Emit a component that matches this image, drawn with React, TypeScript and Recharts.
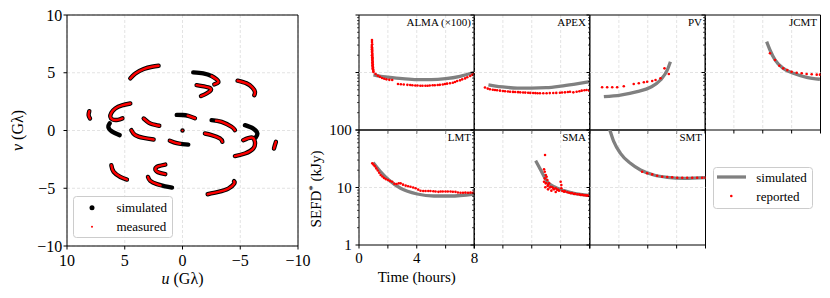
import React from 'react';
import {
  ComposedChart, Line, Scatter, XAxis, YAxis, CartesianGrid,
  ReferenceLine, ReferenceArea, Legend, Label,
} from 'recharts';

const SERIF = "'Liberation Serif', 'Times New Roman', Times, serif";
const GRID = '#dcdcdc';

// ---------- (u, v) coverage, Gλ ----------
// simulated tracks (black)
const simA = [[4.52, 4.51], [4.08, 4.94], [3.36, 5.32], [2.64, 5.52], [2.07, 5.61]];
const simB = [[8.07, 1.67], [8.13, 1.33], [8.01, 1.04]];
const simC = [[4.52, 2.34], [5.24, 2.17], [5.82, 1.91], [6.16, 1.53], [6.25, 1.19], [6.05, 0.95], [5.6, 0.92], [5.2, 1.05]];
const simD = [[6.30, 0.62], [6.42, 0.30], [6.12, -0.08], [5.44, -0.40]];
const simE = [[3.36, 1.04], [3.08, 0.80], [2.79, 0.61], [2.35, 0.48], [2.01, 0.41]];
const simF = [[4.43, 0.03], [4.09, -0.40], [3.36, -0.64], [2.50, -0.78]];
const simG = [[0.5, 1.35], [0, 1.34], [-0.5, 1.27], [-1.08, 1.06]];
const simH = [[1.1, -0.88], [0.5, -1.1], [0, -1.18], [-0.5, -1.22]];
const simI = [[6.16, -3.01], [5.96, -3.58], [5.38, -4.02], [4.81, -4.25]];
const simJ = [[1.49, -2.95], [2.07, -3.09], [2.35, -3.32], [2.12, -3.61], [1.49, -3.78]];
const simK = [[2.99, -4.02], [2.79, -4.36], [2.21, -4.65], [1.49, -4.83], [0.91, -4.94]];
const simL = [[-0.93, 5.03], [-1.80, 4.94], [-2.52, 4.71], [-2.96, 4.42], [-3.10, 4.16], [-2.75, 3.99]];
const simM = [[-1.22, 3.93], [-2.23, 3.73], [-2.46, 3.50], [-2.09, 3.21], [-1.60, 2.98]];
const simN = [[-4.77, 4.31], [-5.55, 4.08], [-6.04, 3.73], [-6.27, 3.35], [-6.22, 3.06]];
const simO = [[-2.52, 0.90], [-3.39, 0.75], [-4.25, 0.32], [-4.54, 0.03]];
const simP = [[-1.94, -0.26], [-2.52, -0.40], [-3.24, -0.69], [-3.45, -0.98]];
const simQ = [[-5.41, 0.46], [-6.13, 0.17], [-6.48, -0.26], [-6.33, -0.61]];
const simR = [[-5.26, -0.84], [-5.99, -0.61], [-6.27, -0.98], [-6.13, -1.56], [-5.41, -1.99], [-4.54, -2.22]];
const simS = [[-8.09, -0.98], [-8.0, -1.27], [-7.92, -1.56]];
const simT = [[-2.18, -5.52], [-3.10, -5.32], [-3.97, -5.03], [-4.48, -4.59], [-4.46, -4.39]];
const simCenter = [[0, 0]];

// measured tracks (red) that differ from the simulated ones
const measG = [[-0.45, 1.28], [-1.08, 1.06]];
const measH = [[1.1, -0.88], [0.5, -1.1], [0.2, -1.15]];
const measK = [[2.99, -4.02], [2.79, -4.36], [2.21, -4.65], [1.9, -4.75]];
const measL = [[-2.52, 4.71], [-2.96, 4.42], [-3.10, 4.16], [-2.75, 3.99]];
const measO = [[-2.9, 0.85], [-3.39, 0.75], [-4.25, 0.32], [-4.54, 0.03]];

const simulatedTracks = [simA, simB, simC, simD, simE, simF, simG, simH, simI, simJ, simK, simL, simM, simN, simO, simP, simQ, simR, simS, simT];
const measuredTracks = [simA, simB, simC, simE, simF, measG, measH, simI, simJ, measK, measL, simM, simN, measO, simP, simR, simS, simT];

const uvTicks = [10, 5, 0, -5, -10];

// ---------- SEFD* (kJy) vs time (hours) ----------
const almaSim = [[1.0, 9.1], [1.5, 8.6], [2, 8.3], [3, 7.8], [4, 7.5], [5, 7.5], [6, 7.8], [7, 8.6], [8, 10.1]];
const almaRep = [
  [0.9, 36.7], [0.9, 34], [0.91, 31], [0.89, 29], [0.9, 27.5], [0.91, 26], [0.89, 25], [0.92, 24], [0.9, 23],
  [0.91, 22], [0.93, 21], [0.9, 20], [0.92, 19.5], [0.93, 18.5], [0.91, 18], [0.94, 17.3], [0.92, 16.6],
  [0.93, 16], [0.95, 15.3], [0.92, 14.8], [0.94, 14.2], [0.96, 13.6], [0.93, 13.2], [0.95, 12.7], [0.97, 12.2],
  [0.95, 11.8], [0.97, 11.4], [0.98, 11.0], [0.99, 10.6], [1.0, 10.2],
  [1.15, 9.4], [1.3, 8.8], [1.45, 8.4], [1.6, 8.0], [1.75, 7.8], [1.9, 7.6], [2.1, 7.45], [2.3, 7.4],
  [2.7, 6.3], [2.9, 6.25], [3.1, 6.2], [3.35, 6.1], [3.55, 6.05], [3.7, 6.0], [3.9, 5.95], [4.05, 5.95], [4.25, 5.9],
  [4.4, 5.9], [4.6, 5.9], [4.75, 5.9], [4.9, 5.95], [5.1, 6.0], [5.25, 6.0], [5.45, 6.05], [5.6, 6.1], [5.8, 6.2],
  [5.95, 6.3], [6.1, 6.4], [6.3, 6.5], [6.5, 6.65], [6.65, 6.85], [6.8, 7.1], [7.0, 7.3], [7.15, 7.6], [7.35, 7.9],
  [7.5, 8.25], [7.7, 8.7], [7.85, 9.1], [7.95, 9.8],
];
const apexSim = [[1, 6.1], [1.5, 5.8], [2, 5.6], [3, 5.35], [4, 5.35], [5, 5.45], [6, 5.8], [7, 6.3], [8, 6.9]];
const apexRep = [
  [0.76, 5.5], [0.95, 5.25], [1.1, 5.1], [1.3, 5.0], [1.45, 4.97], [1.6, 4.9], [1.8, 4.83], [2.0, 4.76], [2.15, 4.72],
  [2.35, 4.68], [2.5, 4.64], [2.7, 4.6], [2.85, 4.58], [3.05, 4.55], [3.2, 4.52], [3.4, 4.5], [3.55, 4.47], [3.75, 4.45],
  [3.9, 4.42], [4.1, 4.4], [4.25, 4.38], [4.4, 4.36], [4.57, 4.35], [4.8, 4.35], [5.03, 4.35], [5.25, 4.38], [5.49, 4.4],
  [5.7, 4.42], [5.95, 4.45], [6.1, 4.5], [6.3, 4.52], [6.5, 4.58], [6.65, 4.64], [6.88, 4.52], [7.11, 4.64], [7.3, 4.72],
  [7.46, 4.83], [7.65, 4.9], [7.8, 4.97], [7.98, 4.83],
];
const pvSim = [[0.96, 3.79], [2.11, 4.06], [3.27, 4.64], [4.19, 5.53], [4.88, 7.41], [5.35, 11.0], [5.57, 15.4]];
const pvRep = [
  [0.84, 5.53], [1.19, 5.53], [1.54, 5.53], [1.88, 5.53], [2.34, 5.75], [3.03, 6.31], [3.38, 6.49], [3.73, 6.75],
  [3.96, 6.92], [4.31, 7.11], [4.54, 7.41], [4.88, 7.92], [5.16, 11.8], [5.46, 9.42],
];
const jcmtSim = [[4.27, 34.4], [4.5, 24.6], [4.85, 16.5], [5.42, 11.8], [6.12, 9.68], [7.04, 8.26], [7.96, 7.63]];
const jcmtRep = [
  [4.5, 21.6], [4.85, 16.5], [5.15, 13.1], [5.42, 11.8], [5.7, 11.0], [6.0, 10.3], [6.35, 9.93], [6.7, 9.68],
  [7.04, 9.42], [7.39, 9.3], [7.74, 9.17], [7.96, 9.17],
];
const lmtSim = [[0.99, 27.1], [1.5, 18.8], [2.07, 13.5], [2.88, 9.68], [4.03, 7.71], [5.18, 7.11], [6.34, 7.11], [7.95, 7.71]];
const lmtRep = [
  [0.92, 26.3], [1.0, 25.0], [1.1, 23.5], [1.2, 21.5], [1.3, 19.8], [1.4, 18.0], [1.5, 16.5], [1.62, 15.5], [1.73, 14.6],
  [1.85, 14.0], [2.0, 13.5], [2.15, 13.0], [2.3, 12.6], [2.45, 11.6], [2.6, 11.5], [2.75, 11.8], [2.88, 11.8], [3.05, 11.2],
  [3.23, 10.8], [3.4, 10.5], [3.57, 10.3], [3.75, 10.0], [3.92, 9.7], [4.1, 9.2], [4.26, 8.8], [4.45, 8.7], [4.61, 8.7],
  [4.8, 8.7], [4.95, 8.7], [5.15, 8.6], [5.3, 8.5], [5.5, 8.4], [5.65, 8.5], [5.8, 8.5], [5.99, 8.5], [6.15, 8.5],
  [6.34, 8.5], [6.5, 8.45], [6.68, 8.4], [6.85, 8.2], [7.03, 8.1], [7.2, 8.1], [7.37, 8.15], [7.55, 8.1], [7.72, 8.15],
  [7.88, 8.1], [7.97, 8.2],
];
const smaSim = [[4.27, 29.3], [4.5, 23.0], [4.8, 16.5], [5.08, 12.6], [5.54, 10.3], [6.24, 8.81], [6.93, 7.92], [7.97, 7.31]];
const smaRep = [
  [4.92, 36.7], [4.85, 20.7], [4.9, 18.8], [4.97, 16.5], [5.03, 15.4], [4.9, 14.4], [5.08, 13.5], [4.85, 12.6],
  [4.97, 11.8], [5.13, 11.0], [5.2, 11.8], [5.31, 10.3], [5.43, 10.1], [5.54, 9.29], [5.66, 9.68], [5.77, 9.06],
  [5.89, 8.81], [6.0, 12.6], [6.05, 11.0], [6.05, 9.68], [6.12, 8.69], [6.24, 8.47], [6.47, 8.25], [6.7, 7.92],
  [6.93, 7.71], [7.16, 7.61], [7.39, 7.41], [7.62, 7.31], [7.85, 7.21], [7.97, 7.11], [4.94, 10.1], [5.13, 9.29],
  [5.36, 8.81], [5.66, 8.36], [5.0, 12.0], [5.1, 10.6], [5.25, 10.0], [5.5, 9.6], [5.8, 9.2], [6.3, 8.6], [6.6, 8.1],
  [6.8, 8.0], [7.0, 7.8], [7.3, 7.6], [7.5, 7.45], [7.75, 7.3], [7.9, 7.2],
];
const smtSim = [[1.2, 130], [1.37, 100], [1.65, 62.7], [2.11, 39.3], [2.8, 26.3], [3.5, 20.1], [4.42, 16.5], [5.35, 15.0], [6.5, 14.4], [8.0, 14.8]];
const smtRep = [
  [3.61, 18.8], [3.96, 17.7], [4.31, 16.9], [4.65, 16.0], [5.0, 15.4], [5.35, 15.2], [5.69, 15.0], [6.04, 14.8],
  [6.39, 14.8], [6.73, 14.8], [7.08, 14.8], [7.42, 14.8], [7.77, 14.8], [8.0, 14.8],
];

const hourTicks = [0, 2, 4, 6, 8];
const hourLabels = [0, 4, 8];
const sefdTicks = [1, 2, 3, 4, 5, 6, 7, 8, 9, 10, 20, 30, 40, 50, 60, 70, 80, 90, 100];
const sefdLabels = [1, 10, 100];

// ---------- helpers ----------
const fmt = (v: number) => (v < 0 ? `\u2212${-v}` : `${v}`);
const toUV = (a: number[][]) => a.map(([u, v]) => ({ u, v }));
const toTS = (a: number[][]) => a.map(([t, s]) => ({ t, s }));

const UvXTick = (p: any) => (
  <g>
    <line x1={p.x} y1={p.y} x2={p.x} y2={p.y + 3.5} stroke="#000" strokeWidth={1} />
    <text x={p.x} y={p.y + 20} textAnchor="middle" fontSize={16} fontFamily={SERIF} fill="#000">{fmt(p.payload.value)}</text>
  </g>
);
const UvYTick = (p: any) => {
  const v = p.payload.value;
  return (
    <g>
      <line x1={p.x - 3.5} y1={p.y} x2={p.x} y2={p.y} stroke="#000" strokeWidth={1} />
      <text x={p.x - (Math.abs(v) >= 10 ? 4.7 : 11.7)} y={p.y + 5.5} textAnchor="end" fontSize={16} fontFamily={SERIF} fill="#000">{fmt(v)}</text>
    </g>
  );
};
const makeBottomTick = (show: boolean) => (p: any) => {
  const v = p.payload.value;
  return (
    <g>
      <line x1={p.x} y1={p.y} x2={p.x} y2={p.y + 3.5} stroke="#000" strokeWidth={1} />
      {show && hourLabels.includes(v) ? (
        <text x={p.x} y={p.y + 18.3} textAnchor="middle" fontSize={15} fontFamily={SERIF} fill="#000">{v}</text>
      ) : null}
    </g>
  );
};
const makeLeftTick = (show: boolean) => (p: any) => {
  const v = p.payload.value;
  const major = sefdLabels.includes(v);
  return (
    <g>
      <line x1={p.x - (major ? 3.5 : 2)} y1={p.y} x2={p.x} y2={p.y} stroke="#000" strokeWidth={major ? 1 : 0.7} />
      {show && major ? (
        <text x={p.x - 7.3} y={p.y + 5} textAnchor="end" fontSize={15} fontFamily={SERIF} fill="#000">{v}</text>
      ) : null}
    </g>
  );
};
const titleLabel = (title: string) => (p: any) => {
  const vb = p.viewBox || {};
  return (
    <text x={vb.x + vb.width - 3.5} y={vb.y + 11} textAnchor="end" fontSize={11} fontFamily={SERIF} fill="#000">{title}</text>
  );
};
const RedDot = (p: any) => <circle cx={p.cx} cy={p.cy} r={1.3} fill="#ff0000" />;
const BlackCenter = (p: any) => <circle cx={p.cx} cy={p.cy} r={2.2} fill="#000" />;
const RedCenter = (p: any) => <circle cx={p.cx} cy={p.cy} r={1.1} fill="#ff0000" />;

const UvLegend = () => (
  <svg width={100} height={42} style={{ display: 'block', overflow: 'visible' }}>
    <rect x={0.5} y={0.5} width={99} height={41} rx={3} fill="#fff" fillOpacity={0.8} stroke="#cccccc" />
    <circle cx={19} cy={11.7} r={2.5} fill="#000" />
    <text x={43.4} y={16} fontSize={13} fontFamily={SERIF} fill="#000">simulated</text>
    <circle cx={19} cy={30.7} r={1} fill="#ff0000" />
    <text x={43.4} y={35} fontSize={13} fontFamily={SERIF} fill="#000">measured</text>
  </svg>
);
const SefdLegend = () => (
  <svg width={100} height={42} style={{ display: 'block', overflow: 'visible' }}>
    <rect x={0.5} y={0.5} width={99} height={41} rx={3} fill="#fff" fillOpacity={0.8} stroke="#cccccc" />
    <line x1={4} y1={10} x2={33} y2={10} stroke="#808080" strokeWidth={3.3} />
    <text x={43.3} y={14.5} fontSize={13} fontFamily={SERIF} fill="#000">simulated</text>
    <circle cx={18.3} cy={29} r={1.3} fill="#ff0000" />
    <text x={43.3} y={33.5} fontSize={13} fontFamily={SERIF} fill="#000">reported</text>
  </svg>
);

const ZERO = { top: 0, right: 0, bottom: 0, left: 0 };

function UvChart() {
  const W = 231;
  const H = 231;
  return (
    <div style={{ position: 'absolute', left: 65.7, top: 15 }}>
      <ComposedChart width={W + 1} height={H + 1} margin={ZERO}>
        <CartesianGrid stroke={GRID} strokeDasharray="3 2" strokeWidth={0.8} />
        <XAxis type="number" dataKey="u" domain={[-10, 10]} reversed ticks={uvTicks} interval={0}
          height={1} tickSize={0} tickMargin={0} tickLine={false} axisLine={false} tick={UvXTick} allowDataOverflow>
          <Label content={(p: any) => {
            const vb = p.viewBox;
            return (
              <text x={vb.x + vb.width / 2} y={vb.y + 38.3} textAnchor="middle" fontSize={16} fontFamily={SERIF} fill="#000">
                <tspan fontStyle="italic">u</tspan> (G&#955;)
              </text>
            );
          }} />
        </XAxis>
        <YAxis type="number" dataKey="v" domain={[-10, 10]} ticks={uvTicks} interval={0}
          width={1} tickSize={0} tickMargin={0} tickLine={false} axisLine={false} tick={UvYTick} allowDataOverflow>
          <Label content={(p: any) => {
            const vb = p.viewBox;
            const x = vb.x + vb.width - 44;
            const y = vb.y + vb.height / 2;
            return (
              <text x={x} y={y} transform={`rotate(-90, ${x}, ${y})`} textAnchor="middle" fontSize={16} fontFamily={SERIF} fill="#000">
                <tspan fontStyle="italic">v</tspan> (G&#955;)
              </text>
            );
          }} />
        </YAxis>
        {simulatedTracks.map((d, i) => (
          <Line key={`sim${i}`} data={toUV(d)} dataKey="v" type="natural" stroke="#000" strokeWidth={4.4}
            strokeLinecap="round" strokeLinejoin="round" dot={false} activeDot={false} legendType="none" isAnimationActive={false} />
        ))}
        <Scatter data={toUV(simCenter)} dataKey="v" shape={BlackCenter} legendType="none" isAnimationActive={false} />
        {measuredTracks.map((d, i) => (
          <Line key={`meas${i}`} data={toUV(d)} dataKey="v" type="natural" stroke="#ff0000" strokeWidth={2.4}
            strokeLinecap="round" strokeLinejoin="round" dot={false} activeDot={false} legendType="none" isAnimationActive={false} />
        ))}
        <Scatter data={toUV(simCenter)} dataKey="v" shape={RedCenter} legendType="none" isAnimationActive={false} />
        <ReferenceArea x1={-10} x2={10} y1={-10} y2={10} fill="none" stroke="#000" strokeWidth={1} />
        <Legend layout="vertical" align="center" verticalAlign="middle" content={UvLegend}
          wrapperStyle={{ left: 7.6, top: 181, width: 100, height: 42 }} />
      </ComposedChart>
    </div>
  );
}

type PanelProps = {
  title: string;
  left: number;
  top: number;
  sim: number[][];
  rep: number[][];
  showX?: boolean;
  showY?: boolean;
  legend?: boolean;
};

function SefdPanel({ title, left, top, sim, rep, showX = false, showY = false, legend = false }: PanelProps) {
  const W = 115.5;
  const H = 115;
  return (
    <div style={{ position: 'absolute', left: left - 1, top }}>
      <ComposedChart width={W + 1} height={H + 1} margin={ZERO}>
        <CartesianGrid horizontal={false} stroke={GRID} strokeDasharray="3 2" strokeWidth={0.8} />
        <ReferenceLine y={10} stroke={GRID} strokeDasharray="3 2" strokeWidth={0.8} />
        <XAxis type="number" dataKey="t" domain={[0, 8]} ticks={hourTicks} interval={0}
          height={1} tickSize={0} tickMargin={0} tickLine={false} axisLine={false} tick={makeBottomTick(showX)} allowDataOverflow>
          {showX ? (
            <Label content={(p: any) => {
              const vb = p.viewBox;
              return (
                <text x={vb.x + vb.width / 2} y={vb.y + 36.7} textAnchor="middle" fontSize={15} fontFamily={SERIF} fill="#000">Time (hours)</text>
              );
            }} />
          ) : null}
        </XAxis>
        <YAxis type="number" dataKey="s" scale="log" domain={[1, 100]} ticks={sefdTicks} interval={0}
          width={1} tickSize={0} tickMargin={0} tickLine={false} axisLine={false} tick={makeLeftTick(showY)} allowDataOverflow>
          {showY ? (
            <Label content={(p: any) => {
              const vb = p.viewBox;
              const x = vb.x + vb.width - 38;
              const y = vb.y + vb.height / 2 + 1.5;
              return (
                <text x={x} y={y} transform={`rotate(-90, ${x}, ${y})`} textAnchor="middle" fontSize={15} fontFamily={SERIF} fill="#000">
                  <tspan>SEFD</tspan><tspan dy={-5} fontSize={11}>*</tspan><tspan dy={5}> (kJy)</tspan>
                </text>
              );
            }} />
          ) : null}
        </YAxis>
        <Line data={toTS(sim)} dataKey="s" type="monotone" stroke="#808080" strokeWidth={3.3} dot={false}
          activeDot={false} legendType="none" isAnimationActive={false} />
        <Scatter data={toTS(rep)} dataKey="s" shape={RedDot} legendType="none" isAnimationActive={false} />
        <ReferenceArea x1={0} x2={8} y1={1} y2={100} fill="none" stroke="#000" strokeWidth={1} label={titleLabel(title)} />
        {legend ? (
          <Legend layout="vertical" align="center" verticalAlign="middle" content={SefdLegend}
            wrapperStyle={{ left: 124.2, top: 36.7, width: 100, height: 42 }} />
        ) : null}
      </ComposedChart>
    </div>
  );
}

const COLS = [358.5, 474, 589.5, 705];
const ROWS = [15, 130];

export default function App() {
  return (
    <div style={{ position: 'absolute', left: 0, top: 0, width: 830, height: 298, background: '#fff', fontFamily: SERIF }}>
      <style>{'.recharts-surface{overflow:visible}'}</style>
      <UvChart />
      <SefdPanel title={'ALMA (\u00d7100)'} left={COLS[0]} top={ROWS[0]} sim={almaSim} rep={almaRep} />
      <SefdPanel title="APEX" left={COLS[1]} top={ROWS[0]} sim={apexSim} rep={apexRep} />
      <SefdPanel title="PV" left={COLS[2]} top={ROWS[0]} sim={pvSim} rep={pvRep} />
      <SefdPanel title="JCMT" left={COLS[3]} top={ROWS[0]} sim={jcmtSim} rep={jcmtRep} />
      <SefdPanel title="LMT" left={COLS[0]} top={ROWS[1]} sim={lmtSim} rep={lmtRep} showX showY />
      <SefdPanel title="SMA" left={COLS[1]} top={ROWS[1]} sim={smaSim} rep={smaRep} />
      <SefdPanel title="SMT" left={COLS[2]} top={ROWS[1]} sim={smtSim} rep={smtRep} legend />
    </div>
  );
}
